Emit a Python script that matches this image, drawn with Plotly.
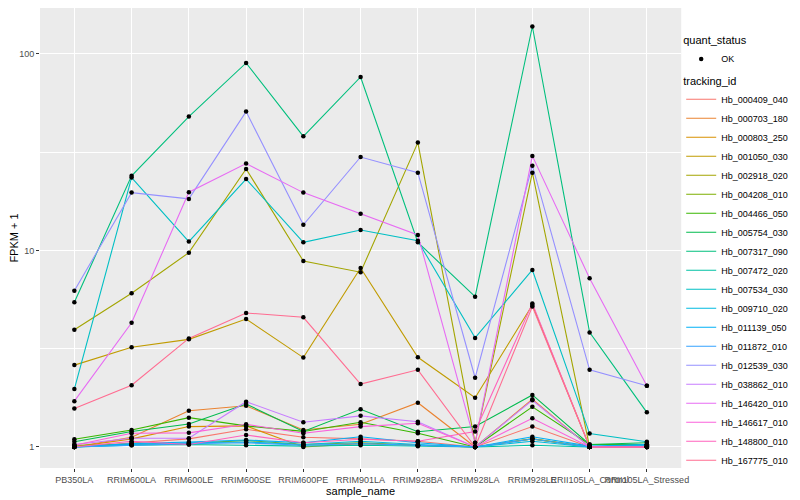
import plotly.graph_objects as go

categories = ["PB350LA", "RRIM600LA", "RRIM600LE", "RRIM600SE", "RRIM600PE", "RRIM901LA",
              "RRIM928BA", "RRIM928LA", "RRIM928LE", "RRII105LA_Control", "RRII105LA_Stressed"]

tracking_ids = ["Hb_000409_040", "Hb_000703_180", "Hb_000803_250", "Hb_001050_030", "Hb_002918_020",
                "Hb_004208_010", "Hb_004466_050", "Hb_005754_030", "Hb_007317_090", "Hb_007472_020",
                "Hb_007534_030", "Hb_009710_020", "Hb_011139_050", "Hb_011872_010", "Hb_012539_030",
                "Hb_038862_010", "Hb_146420_010", "Hb_146617_010", "Hb_148800_010", "Hb_167775_010"]

colors = ["#F8766D", "#EA8331", "#D89000", "#C09B00", "#A3A500", "#7CAE00", "#39B600", "#00BB4E",
          "#00BF7D", "#00C1A3", "#00BFC4", "#00BAE0", "#00B0F6", "#35A2FF", "#9590FF", "#C77CFF",
          "#E76BF3", "#FA62DB", "#FF62BC", "#FF6C91"]

hb_000409_040 = [1.0, 1.05, 1.10, 1.23, 1.12, 1.10, 1.07, 1.0, 1.27, 1.0, 1.0]
hb_000703_180 = [1.0, 1.12, 1.53, 1.62, 1.22, 1.305, 1.68, 1.0, 1.75, 1.0, 1.0]
hb_000803_250 = [1.0, 1.10, 1.27, 1.28, 1.0, 1.04, 1.02, 1.0, 1.10, 1.0, 1.0]
hb_001050_030 = [2.61, 3.22, 3.53, 4.48, 2.85, 8.15, 2.86, 1.78, 5.28, 1.0, 1.0]
hb_002918_020 = [3.95, 6.06, 9.75, 26.0, 8.84, 7.75, 35.4, 1.05, 24.9, 1.0, 1.0]
hb_004208_010 = [1.02, 1.03, 1.04, 1.08, 1.03, 1.05, 1.02, 1.0, 1.10, 1.0, 1.02]
hb_004466_050 = [1.094, 1.22, 1.41, 1.28, 1.20, 1.336, 1.174, 1.0, 1.60, 1.03, 1.03]
hb_005754_030 = [1.064, 1.20, 1.31, 1.655, 1.20, 1.556, 1.196, 1.27, 1.84, 1.03, 1.05]
hb_007317_090 = [5.45, 24.0, 48.0, 90.0, 38.1, 76.4, 11.0, 5.82, 138.0, 3.83, 1.50]
hb_007472_020 = [1.0, 1.02, 1.03, 1.02, 1.01, 1.02, 1.01, 1.0, 1.02, 1.0, 1.03]
hb_007534_030 = [1.97, 23.5, 11.1, 23.1, 11.0, 12.7, 11.2, 3.59, 7.96, 1.17, 1.064]
hb_009710_020 = [1.0, 1.03, 1.05, 1.06, 1.03, 1.07, 1.03, 1.0, 1.07, 1.0, 1.02]
hb_011139_050 = [1.0, 1.04, 1.06, 1.085, 1.05, 1.128, 1.05, 1.0, 1.128, 1.01, 1.03]
hb_011872_010 = [1.0, 1.02, 1.04, 1.05, 1.02, 1.04, 1.02, 1.0, 1.098, 1.0, 1.01]
hb_012539_030 = [6.24, 19.7, 18.3, 50.9, 13.5, 29.9, 24.9, 2.25, 27.0, 2.47, 2.05]
hb_038862_010 = [1.03, 1.107, 1.107, 1.70, 1.336, 1.44, 1.345, 1.0, 1.73, 1.0, 1.0]
hb_146420_010 = [1.71, 4.29, 19.8, 27.7, 19.7, 15.4, 12.0, 1.05, 30.3, 7.22, 2.05]
hb_146617_010 = [1.02, 1.174, 1.18, 1.305, 1.174, 1.27, 1.32, 1.0, 1.40, 1.0, 1.0]
hb_148800_010 = [1.0, 1.07, 1.03, 1.15, 1.05, 1.094, 1.07, 1.20, 5.38, 1.0, 1.0]
hb_167775_010 = [1.57, 2.06, 3.57, 4.81, 4.57, 2.09, 2.47, 1.0, 5.18, 1.0, 1.0]

series = [hb_000409_040, hb_000703_180, hb_000803_250, hb_001050_030, hb_002918_020,
          hb_004208_010, hb_004466_050, hb_005754_030, hb_007317_090, hb_007472_020,
          hb_007534_030, hb_009710_020, hb_011139_050, hb_011872_010, hb_012539_030,
          hb_038862_010, hb_146420_010, hb_146617_010, hb_148800_010, hb_167775_010]

y_ticks = [1, 10, 100]
y_minor = [10 ** 0.5, 10 ** 1.5]

FONT = "Liberation Sans, Arial, sans-serif"

fig = go.Figure()
for name, col, vals in zip(tracking_ids, colors, series):
    fig.add_trace(go.Scatter(x=categories, y=vals, mode="lines", name=name,
                             line=dict(color=col, width=1.1), legend="legend2"))

all_x, all_y = [], []
for vals in series:
    all_x += categories
    all_y += vals
fig.add_trace(go.Scatter(x=all_x, y=all_y, mode="markers", name="OK",
                         marker=dict(color="black", size=4.5, symbol="circle"),
                         legend="legend"))

fig.update_layout(
    width=792, height=492,
    margin=dict(l=32, r=117, t=0, b=32),
    paper_bgcolor="white", plot_bgcolor="#EBEBEB",
    font=dict(family=FONT, size=9, color="#000000"),
    legend=dict(title=dict(text="quant_status", font=dict(size=11)),
                xref="container", yref="container", x=0.85, y=0.955,
                xanchor="left", yanchor="top", itemwidth=30, bgcolor="rgba(0,0,0,0)",
                font=dict(size=9)),
    legend2=dict(title=dict(text="tracking_id", font=dict(size=11)),
                 xref="container", yref="container", x=0.85, y=0.873,
                 xanchor="left", yanchor="top", itemwidth=30, bgcolor="rgba(0,0,0,0)",
                 font=dict(size=9), maxheight=480),
    xaxis=dict(type="category", categoryorder="array", categoryarray=categories,
               range=[-0.6, 10.6], tickangle=0, showgrid=True, gridcolor="white", gridwidth=1.1,
               ticks="outside", ticklen=3, tickcolor="#333333", zeroline=False,
               tickfont=dict(size=9, color="#4D4D4D"),
               title=dict(text="sample_name", font=dict(size=11), standoff=3),
               automargin=False, showline=False),
    yaxis=dict(type="log", range=[-0.107, 2.234], tickvals=y_ticks,
               ticktext=[str(v) for v in y_ticks], showgrid=True, gridcolor="white",
               gridwidth=1.1, ticks="outside", ticklen=3, tickcolor="#333333",
               tickfont=dict(size=9, color="#4D4D4D"), zeroline=False,
               minor=dict(tickvals=y_minor, showgrid=True, gridcolor="white", gridwidth=0.5, ticks=""),
               title=dict(text="FPKM + 1", font=dict(size=11), standoff=0),
               automargin=False),
    showlegend=True,
)

fig.write_html("out.html")
